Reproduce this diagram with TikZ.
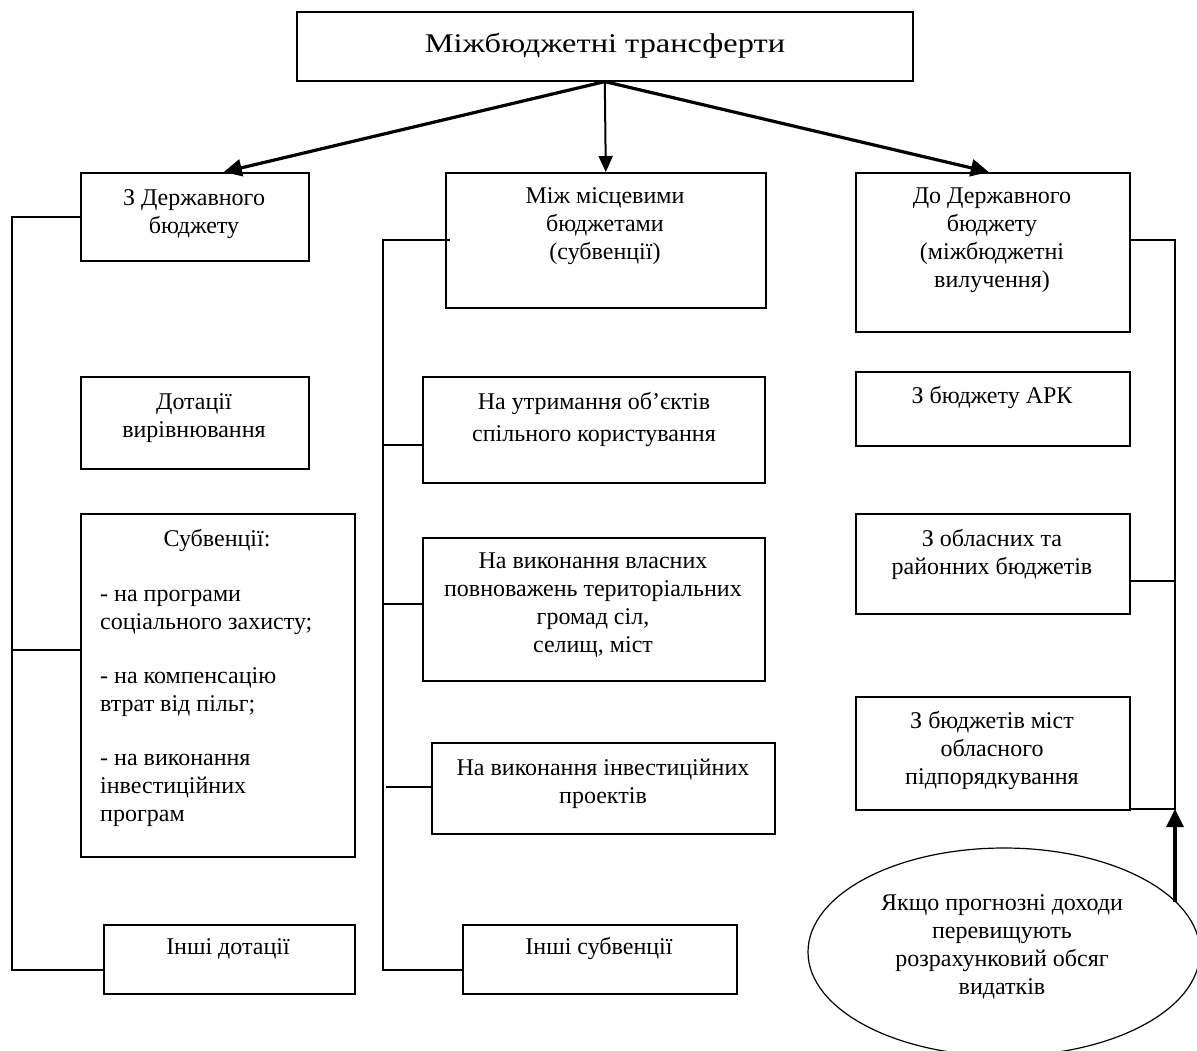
\documentclass[tikz,border=0pt]{standalone}
\usepackage{fontspec}
\setmainfont{Liberation Serif}
\usetikzlibrary{shapes.geometric,arrows.meta,calc}
\newcommand{\mylines}[2]{\parbox[t]{#1}{\centering #2}}
\newcommand{\myleft}[2]{\parbox[t]{#1}{\raggedright #2}}
\begin{document}
\begin{tikzpicture}[x=1pt,y=-1pt,
  box/.style={draw,line width=1.6pt,rectangle,inner sep=0pt,anchor=north west},
  txt/.style={inner sep=0pt,anchor=base,font=\fontsize{24}{28}\selectfont},
  con/.style={line width=1.4pt},
  arr/.style={line width=3.2pt,-{Triangle[length=18pt,width=17pt]}},
  marr/.style={line width=2pt,-{Triangle[length=16pt,width=14pt]}}]
\useasboundingbox (0,0) rectangle (1197,1050);
\clip (0,0) rectangle (1197,1050);
% boxes
\node[box,minimum width=616pt,minimum height=69pt] (top) at (296,11) {};
\node[box,minimum width=228pt,minimum height=88pt] (lb) at (80,172) {};
\node[box,minimum width=320pt,minimum height=135pt] (mb) at (445,172) {};
\node[box,minimum width=274pt,minimum height=159pt] (rb) at (855,172) {};
\node[box,minimum width=228pt,minimum height=92pt] (dv) at (80,376) {};
\node[box,minimum width=274pt,minimum height=343pt] (sb) at (80,513) {};
\node[box,minimum width=251pt,minimum height=69pt] (id) at (103,924) {};
\node[box,minimum width=342pt,minimum height=106pt] (m1) at (422,376) {};
\node[box,minimum width=342pt,minimum height=143pt] (m2) at (422,537) {};
\node[box,minimum width=343pt,minimum height=91pt] (m3) at (431,742) {};
\node[box,minimum width=274pt,minimum height=69pt] (m4) at (462,924) {};
\node[box,minimum width=274pt,minimum height=74pt] (r1) at (855,371) {};
\node[box,minimum width=274pt,minimum height=100pt] (r2) at (855,513) {};
\node[box,minimum width=274pt,minimum height=113pt] (r3) at (855,696) {};
\node[draw,ellipse,line width=1.2pt,inner sep=0pt,minimum width=392pt,minimum height=208pt] (el) at (1004,952) {};
% texts
\node[txt,font=\fontsize{27}{32}\selectfont] (ttop) at (605,52) {\scalebox{1.2}[1]{Міжбюджетні трансферти}};
\node[txt] (tlb) at (194,205) {\mylines{226pt}{З Державного\\бюджету}};
\node[txt] (tmb) at (605,203) {\mylines{316pt}{Між місцевими\\бюджетами\\(субвенції)}};
\node[txt] (trb) at (992,203) {\mylines{272pt}{До Державного\\бюджету\\(міжбюджетні\\вилучення)}};
\node[txt] (tdv) at (194,409) {\mylines{226pt}{Дотації\\вирівнювання}};
\node[txt] (tsb) at (217,546) {Субвенції:};
\node[txt,anchor=base west] (tsbl) at (100,601) {\myleft{252pt}{- на програми\\соціального захисту;\\[26pt]- на компенсацію\\втрат від пільг;\\[26pt]- на виконання\\інвестиційних\\програм}};
\node[txt] (tid) at (228,954) {Інші дотації};
\node[txt] (tm1) at (594,409) {\mylines{340pt}{На утримання об’єктів\\[4pt]спільного користування}};
\node[txt] (tm2) at (593,568) {\mylines{340pt}{На виконання власних\\повноважень територіальних\\громад сіл,\\селищ, міст}};
\node[txt] (tm3) at (603,775) {\mylines{340pt}{На виконання інвестиційних\\проектів}};
\node[txt] (tm4) at (599,954) {Інші субвенції};
\node[txt] (tr1) at (992,403) {З бюджету АРК};
\node[txt] (tr2) at (992,546) {\mylines{272pt}{З обласних та\\районних бюджетів}};
\node[txt] (tr3) at (992,728) {\mylines{272pt}{З бюджетів міст\\обласного\\підпорядкування}};
\node[txt] (tel) at (1002,910) {\mylines{330pt}{Якщо прогнозні доходи\\перевищують\\розрахунковий обсяг\\видатків}};
% top arrows
\draw[arr] (top.south) -- ($(lb.north)+(29,0)$);
\draw[marr] (top.south) -- (mb.north);
\draw[arr] (top.south) -- ($(rb.north)+(-4,0)$);
% left bus
\coordinate (Lend) at (12,970);
\coordinate (Ls) at (12,650);
\draw[con] (lb.west) -| (Lend) -- (Lend -| id.west);
\draw[con] (Ls) -- (Ls -| sb.west);
% middle bus
\coordinate (Mtop) at (383,240);
\coordinate (Mend) at (383,970);
\coordinate (M1) at (383,445);
\coordinate (M2) at (383,604);
\coordinate (M3) at (386,787);
\draw[con] ($(mb.west |- Mtop)+(5,0)$) -- (Mtop) -- (Mend) -- (Mend -| m4.west);
\draw[con] (M1) -- (M1 -| m1.west);
\draw[con] (M2) -- (M2 -| m2.west);
\draw[con] (M3) -- (M3 -| m3.west);
% right bus
\coordinate (Rtop) at (1175,240);
\coordinate (R2) at (1175,581);
\coordinate (Rbot) at (1175,809);
\draw[con] (Rtop -| rb.east) -- (Rtop) -- (Rbot) -- (Rbot -| r3.east);
\draw[con] (R2) -- (R2 -| r2.east);
\draw[arr] (Rbot |- el.16.6) -- (Rbot);
\end{tikzpicture}
\end{document}
